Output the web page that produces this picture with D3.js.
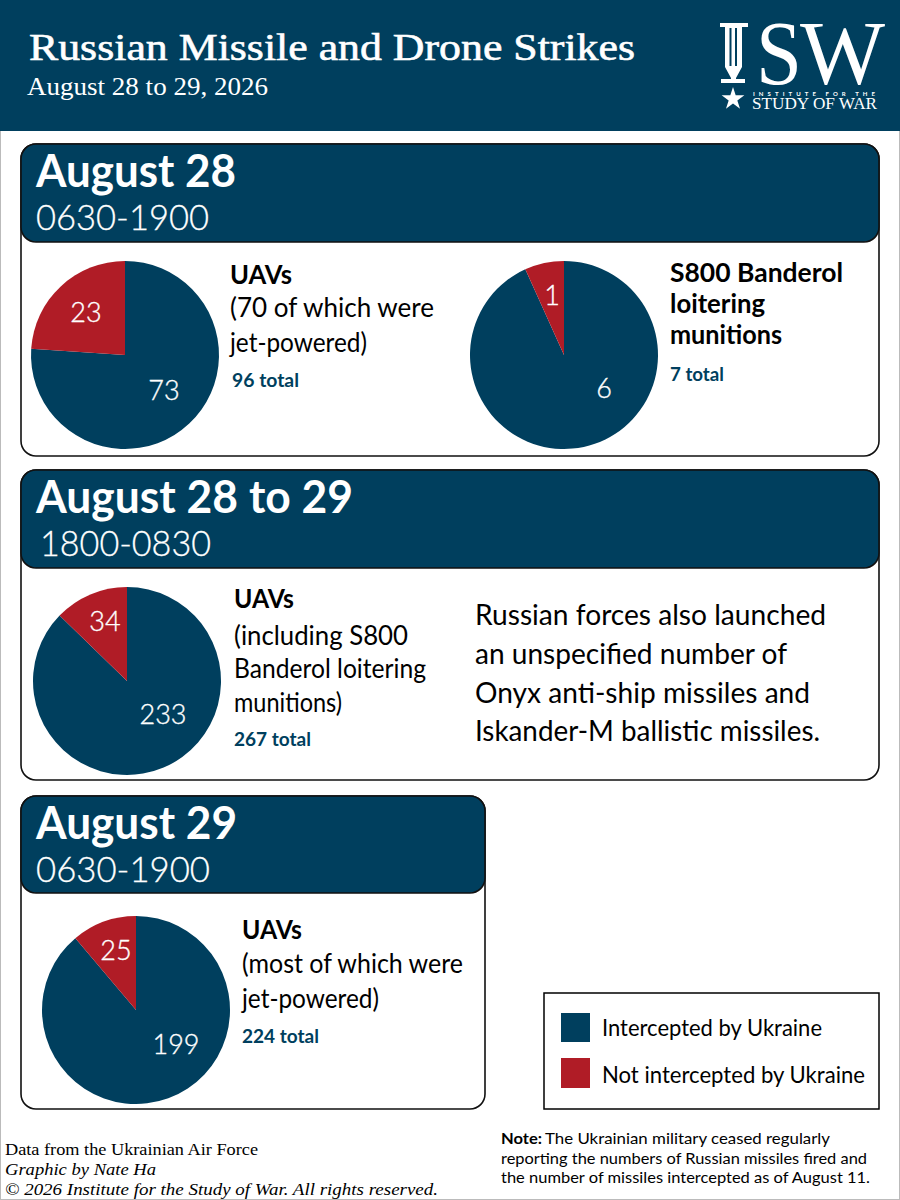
<!DOCTYPE html>
<html><head><meta charset="utf-8">
<script src="https://cdn.jsdelivr.net/npm/d3@7/dist/d3.min.js"></script>
<style>html,body{margin:0;padding:0;background:#fff}svg{display:block}</style>
</head><body><svg id="c" width="900" height="1200"></svg>
<script>
const NAVY="#003f5e", RED="#b01c26";
const FUT="Lato, 'Open Sans', sans-serif", SER="'Liberation Serif', serif";
const seriesNames=["Intercepted by Ukraine","Not intercepted by Ukraine"];
const uavs28=[73,23], banderol28=[6,1], uavs2829=[233,34], uavs29=[199,25];
// the reference draws the Banderol slice narrower than 1 of 7: shares
const banderol28Drawn=[93.25,6.75];
const panelTitles=["August 28","August 28 to 29","August 29"];
const panelTimes=["0630-1900","1800-0830","0630-1900"];
const totals=["96 total","7 total","267 total","224 total"];

const svg=d3.select("#c");
svg.append("rect").attr("width",900).attr("height",1200).attr("fill","#fff");
svg.append("rect").attr("x",.5).attr("y",.5).attr("width",899).attr("height",1199).attr("fill","none").attr("stroke","#bbb");
svg.append("rect").attr("width",900).attr("height",131).attr("fill",NAVY);

function T(x,y,s,size,len,o={}){
  const t=svg.append("text").attr("x",x).attr("y",y).text(s)
   .attr("font-family",o.font||FUT).attr("font-size",size)
   .attr("font-weight",o.weight||400).attr("font-style",o.style||"normal")
   .attr("fill",o.fill||"#000").attr("text-anchor",o.anchor||"start");
  if(o.stroke){t.attr("stroke",o.fill||"#000").attr("stroke-width",o.stroke);}
  if(len){t.attr("textLength",len).attr("lengthAdjust","spacingAndGlyphs");}
  return t;
}
T(29,59.5,"Russian Missile and Drone Strikes",37,606,{font:SER,fill:"#fff",stroke:.6});
T(27,95,"August 28 to 29, 2026",25,241,{font:SER,fill:"#fff"});

// logo
const logo=svg.append("g").attr("fill","#fff");
logo.append("path").attr("d","M720 23H748V27H742V67L736 78V79H745V83H721V79H731V78L725 67V27H720Z");
logo.append("path").attr("d","M729.5 28H731.5V66H729.5ZM735 28H737V66H735Z").attr("fill",NAVY);
T(756,84,"S",90,46,{font:SER,fill:"#fff"});
T(800,84,"W",90,85,{font:SER,fill:"#fff"});
logo.append("path").attr("d",d3.symbol(d3.symbolStar,160)()).attr("transform","translate(733,99)");
T(753,96,"INSTITUTE FOR THE",6,122,{weight:700,fill:"#fff"}).attr("lengthAdjust","spacing");
T(752,109,"STUDY OF WAR",16,125,{font:SER,fill:"#fff"});

// panels
const panels=[{x:21,y:144,w:858,h:312,hh:98},{x:21,y:470,w:858,h:310,hh:98},{x:21,y:796,w:464,h:313,hh:97}];
const titleSpec=[[36,187,200],[36,513,317],[36,839,201]];
const timeSpec=[[36,230,173],[40,556,171],[36,882,174]];
panels.forEach((p,i)=>{
  svg.append("rect").attr("x",p.x).attr("y",p.y).attr("width",p.w).attr("height",p.h).attr("rx",15)
    .attr("fill","#fff").attr("stroke","#111").attr("stroke-width",1.6);
  svg.append("rect").attr("x",p.x).attr("y",p.y).attr("width",p.w).attr("height",p.hh).attr("rx",15)
    .attr("fill",NAVY).attr("stroke","#111").attr("stroke-width",1.6);
  T(titleSpec[i][0],titleSpec[i][1],panelTitles[i],46,titleSpec[i][2],{weight:700,fill:"#fff"});
  T(timeSpec[i][0],timeSpec[i][1],panelTimes[i],36,timeSpec[i][2],{weight:300,fill:"#fff",stroke:.3});
});

// pies
const pie=d3.pie().sort(null);
const arc=d3.arc().innerRadius(0).outerRadius(94);
const colorScale=d3.scaleOrdinal().domain([0,1]).range([NAVY,RED]);
function drawPie(cx,cy,vals,labels,lab){
  const g=svg.append("g").attr("transform",`translate(${cx},${cy})`);
  g.selectAll("path").data(pie(vals)).join("path").attr("d",arc).attr("fill",(d,i)=>colorScale(i));
  labels.forEach((v,i)=>T(lab[i][0]+cx,lab[i][1]+cy,String(v),27,null,{fill:"#fff",anchor:"middle",weight:300,stroke:.35}));
}
drawPie(125,355,uavs28,uavs28,[[39,45],[-39,-33]]);
drawPie(564,355,banderol28Drawn,banderol28,[[40,43],[-12,-50]]);
drawPie(127,681,uavs2829,uavs2829,[[36,43],[-22,-50]]);
drawPie(136,1010,uavs29,uavs29,[[40,44],[-20,-50]]);

// panel text
T(230,284,"UAVs",26,62,{weight:700});
T(230,317,"(70 of which were",26,204);
T(230,352,"jet-powered)",26,137);
T(232,387,totals[0],19,67,{weight:700,fill:NAVY});
T(670,282,"S800 Banderol",26,173,{weight:700});
T(670,313,"loitering",26,95,{weight:700});
T(670,344,"munitions",26,112,{weight:700});
T(670,381,totals[1],19,54,{weight:700,fill:NAVY});
T(234,608,"UAVs",26,60,{weight:700});
T(234,645,"(including S800",26,174);
T(234,678,"Banderol loitering",26,192);
T(234,712,"munitions)",26,108);
T(234,746,totals[2],19,77,{weight:700,fill:NAVY});
["Russian forces also launched","an unspecified number of","Onyx anti-ship missiles and","Iskander-M ballistic missiles."]
 .forEach((s,i)=>T(475,[625,664,703,741][i],s,29,[351,312,335,345][i]));
T(242,939,"UAVs",26,60,{weight:700});
T(242,973,"(most of which were",26,221);
T(242,1008,"jet-powered)",26,137);
T(242,1043,totals[3],19,77,{weight:700,fill:NAVY});

// legend
svg.append("rect").attr("x",544).attr("y",993).attr("width",335).attr("height",116).attr("fill","#fff").attr("stroke","#000").attr("stroke-width",1.5);
seriesNames.forEach((s,i)=>{
  svg.append("rect").attr("x",561).attr("y",[1013,1058][i]).attr("width",29).attr("height",[29,30][i]).attr("fill",colorScale(i));
  T(602,[1036,1083][i],s,22.5,[220,263][i]);
});

// footer
T(5,1155,"Data from the Ukrainian Air Force",17,253,{font:SER});
T(5,1175,"Graphic by Nate Ha",17,151,{font:SER,style:"italic"});
T(5,1195,"© 2026 Institute for the Study of War. All rights reserved.",17,433,{font:SER,style:"italic"});
T(501,1144,"Note:",16,41,{weight:700});
T(545,1144,"The Ukrainian military ceased regularly",16,285);
T(501,1164,"reporting the numbers of Russian missiles fired and",16,366);
T(501,1183,"the number of missiles intercepted as of August 11.",16,369);
</script></body></html>
